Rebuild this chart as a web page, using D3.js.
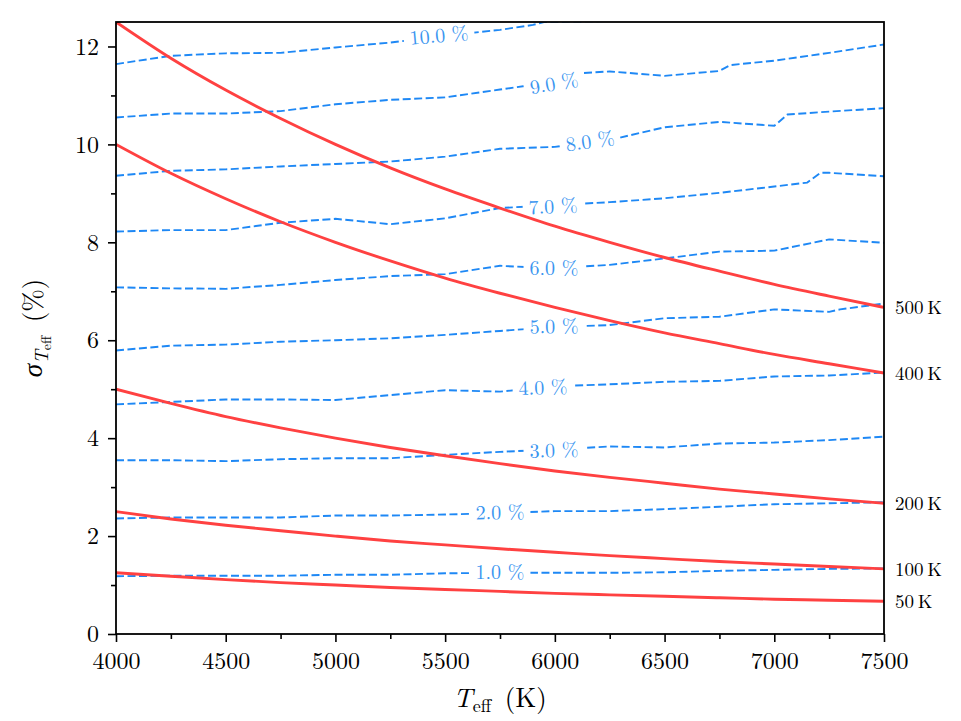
<!DOCTYPE html>
<html>
<head>
<meta charset="utf-8">
<script src="https://cdn.jsdelivr.net/npm/d3@7"></script>
<style>
  body { margin: 0; background: #fff; }
  svg { display: block; }
</style>
</head>
<body>
<svg id="chart" width="961" height="721"></svg>
<script>
// effective temperature grid (K)
var teffGrid = [4000, 4250, 4500, 4750, 5000, 5250, 5500, 5750, 6000, 6250, 6500, 6750, 7000, 7250, 7500];

var deltaLabels = ["500\u2009K", "400\u2009K", "200\u2009K", "100\u2009K", "50\u2009K"];
var sigma500 = [12.50, 11.76, 11.11, 10.53, 10.00, 9.52, 9.09, 8.70, 8.33, 8.00, 7.69, 7.41, 7.14, 6.90, 6.67];
var sigma400 = [10.00, 9.41, 8.89, 8.42, 8.00, 7.62, 7.27, 6.96, 6.67, 6.40, 6.15, 5.93, 5.71, 5.52, 5.33];
var sigma200 = [5.00, 4.71, 4.44, 4.21, 4.00, 3.81, 3.64, 3.48, 3.33, 3.20, 3.08, 2.96, 2.86, 2.76, 2.67];
var sigma100 = [2.50, 2.35, 2.22, 2.11, 2.00, 1.90, 1.82, 1.74, 1.67, 1.60, 1.54, 1.48, 1.43, 1.38, 1.33];
var sigma50  = [1.25, 1.18, 1.11, 1.05, 1.00, 0.95, 0.91, 0.87, 0.83, 0.80, 0.77, 0.74, 0.71, 0.69, 0.67];

// blue contour levels and their traced points [Teff, sigma]
var contourLevels = ["1.0 %", "2.0 %", "3.0 %", "4.0 %", "5.0 %", "6.0 %", "7.0 %", "8.0 %", "9.0 %", "10.0 %"];
var contour1 = [[4000,1.18],[4250,1.19],[4500,1.19],[4750,1.19],[5000,1.21],[5250,1.21],[5500,1.24],[5750,1.25],[6000,1.25],[6250,1.25],[6500,1.26],[6750,1.29],[7000,1.31],[7250,1.33],[7500,1.34]];
var contour2 = [[4000,2.36],[4250,2.38],[4500,2.38],[4750,2.38],[5000,2.42],[5250,2.42],[5500,2.44],[5750,2.47],[6000,2.51],[6250,2.51],[6500,2.55],[6750,2.60],[7000,2.65],[7250,2.67],[7500,2.69]];
var contour3 = [[4000,3.55],[4250,3.55],[4500,3.53],[4750,3.57],[5000,3.59],[5250,3.59],[5500,3.66],[5750,3.72],[6000,3.77],[6250,3.83],[6500,3.81],[6750,3.89],[7000,3.91],[7250,3.96],[7500,4.03]];
var contour4 = [[4000,4.69],[4250,4.74],[4500,4.79],[4750,4.79],[5000,4.78],[5250,4.88],[5500,4.98],[5750,4.95],[6000,5.06],[6250,5.10],[6500,5.15],[6750,5.17],[7000,5.26],[7250,5.28],[7500,5.34]];
var contour5 = [[4000,5.79],[4250,5.89],[4500,5.91],[4750,5.97],[5000,6.00],[5250,6.04],[5500,6.11],[5750,6.19],[6000,6.27],[6250,6.31],[6500,6.45],[6750,6.48],[7000,6.63],[7250,6.58],[7300,6.63],[7500,6.75]];
var contour6 = [[4000,7.08],[4250,7.06],[4500,7.05],[4750,7.13],[5000,7.23],[5250,7.31],[5500,7.35],[5750,7.52],[6000,7.47],[6250,7.54],[6500,7.67],[6750,7.81],[7000,7.83],[7250,8.06],[7500,7.99]];
var contour7 = [[4000,8.22],[4250,8.25],[4500,8.25],[4750,8.40],[5000,8.48],[5250,8.37],[5500,8.49],[5750,8.70],[6000,8.76],[6250,8.82],[6500,8.90],[6750,9.01],[7000,9.14],[7150,9.22],[7210,9.42],[7250,9.42],[7500,9.35]];
var contour8 = [[4000,9.36],[4250,9.46],[4500,9.49],[4750,9.55],[5000,9.60],[5250,9.65],[5500,9.75],[5750,9.91],[6000,9.95],[6250,10.09],[6500,10.35],[6750,10.46],[7000,10.38],[7060,10.61],[7250,10.67],[7500,10.74]];
var contour9 = [[4000,10.55],[4250,10.63],[4500,10.63],[4750,10.68],[5000,10.82],[5250,10.91],[5500,10.96],[5750,11.12],[6000,11.28],[6100,11.45],[6250,11.49],[6500,11.40],[6750,11.50],[6800,11.62],[7000,11.71],[7250,11.87],[7500,12.04]];
var contour10 = [[4000,11.64],[4250,11.81],[4500,11.86],[4750,11.87],[5000,11.98],[5250,12.08],[5500,12.22],[5750,12.34],[5900,12.44],[5950,12.50],[6250,12.52],[6300,12.62]];

// inline label anchors [Teff, sigma, rotation deg]
var labelAnchors = [[5750,1.27,0],[5750,2.49,-1],[5996,3.76,-2],[5946,5.04,-2],[5996,6.29,-1],[5996,7.47,0],[5992,8.74,-3],[6160,10.07,-8],[5996,11.25,-10],[5472,12.23,-5]];

var xTicks = [4000, 4500, 5000, 5500, 6000, 6500, 7000, 7500];
var yTicks = [0, 2, 4, 6, 8, 10, 12];

var serif = "'Latin Modern Roman', 'Liberation Serif', serif";

var margin = {top: 22, right: 77, bottom: 87, left: 116},
    width = 961 - margin.left - margin.right,
    height = 721 - margin.top - margin.bottom;

var svg = d3.select("#chart");
var g = svg.append("g").attr("transform", "translate(" + margin.left + "," + margin.top + ")");

var x = d3.scaleLinear().domain([4000, 7500]).range([0, width]);
var y = d3.scaleLinear().domain([0, 12.5]).range([height, 0]);

g.append("clipPath").attr("id", "plotclip")
  .append("rect").attr("width", width).attr("height", height);

var plot = g.append("g").attr("clip-path", "url(#plotclip)");

var line = d3.line()
  .x(function(d) { return x(d[0]); })
  .y(function(d) { return y(d[1]); });

// blue dashed contours
var contours = [contour1, contour2, contour3, contour4, contour5, contour6, contour7, contour8, contour9, contour10];
plot.selectAll("path.contour")
  .data(contours).enter()
  .append("path")
  .attr("class", "contour")
  .attr("d", line)
  .attr("fill", "none")
  .attr("stroke", "#1e88f5")
  .attr("stroke-width", 1.9)
  .attr("stroke-dasharray", "8,3.5");

// inline labels, with a white patch cutting the dashed line
var labels = plot.selectAll("g.clabel")
  .data(contourLevels).enter()
  .append("g")
  .attr("class", "clabel")
  .attr("transform", function(d, i) {
    var a = labelAnchors[i];
    return "translate(" + x(a[0]) + "," + y(a[1]) + ") rotate(" + a[2] + ")";
  });

labels.append("rect")
  .attr("fill", "#fff");

labels.append("text")
  .attr("text-anchor", "middle")
  .attr("dy", "0.35em")
  .attr("font-size", 20)
  .attr("fill", "#3a95f0")
  .style("font-family", serif)
  .text(function(d) { return d; });

labels.each(function() {
  var el = d3.select(this);
  var bb = el.select("text").node().getBBox();
  el.select("rect")
    .attr("x", bb.x - 6).attr("y", bb.y + 3)
    .attr("width", bb.width + 12).attr("height", bb.height - 6);
});

// red curves
var redSeries = [sigma500, sigma400, sigma200, sigma100, sigma50];
var redLine = d3.line()
  .curve(d3.curveMonotoneX)
  .x(function(d, i) { return x(teffGrid[i]); })
  .y(function(d) { return y(d); });

plot.selectAll("path.fixed")
  .data(redSeries).enter()
  .append("path")
  .attr("class", "fixed")
  .attr("d", redLine)
  .attr("fill", "none")
  .attr("stroke", "#ff4141")
  .attr("stroke-width", 2.9);

// right-hand labels for the red curves
g.selectAll("text.dlabel")
  .data(redSeries).enter()
  .append("text")
  .attr("class", "dlabel")
  .attr("x", width + 11)
  .attr("y", function(d) { return y(d[d.length - 1]); })
  .attr("dy", "0.35em")
  .attr("font-size", 19)
  .attr("fill", "#000")
  .style("font-family", serif)
  .text(function(d, i) { return deltaLabels[i]; });

// axes
var xAxis = g.append("g")
  .attr("transform", "translate(0," + height + ")")
  .call(d3.axisBottom(x).tickValues(xTicks).tickSize(8).tickPadding(10).tickFormat(d3.format("d")));
var xMinor = g.append("g")
  .attr("transform", "translate(0," + height + ")")
  .call(d3.axisBottom(x).tickValues(d3.range(4250, 7500, 500)).tickSize(5).tickFormat(""));

var yAxis = g.append("g")
  .call(d3.axisLeft(y).tickValues(yTicks).tickSize(8).tickPadding(9));
var yMinor = g.append("g")
  .call(d3.axisLeft(y).tickValues([1, 3, 5, 7, 9, 11]).tickSize(5).tickFormat(""));

[xAxis, xMinor, yAxis, yMinor].forEach(function(a) {
  a.attr("font-family", serif);
  a.select(".domain").remove();
  a.selectAll("line").attr("stroke", "#000").attr("stroke-width", 1.6);
  a.selectAll("text").attr("font-size", 24).attr("fill", "#000")
    .style("font-family", serif);
});

// frame
g.append("rect")
  .attr("width", width).attr("height", height)
  .attr("fill", "none").attr("stroke", "#000").attr("stroke-width", 1.8);

// axis titles
var xt = svg.append("text")
  .attr("x", margin.left + width / 2)
  .attr("y", 707)
  .attr("text-anchor", "middle")
  .attr("font-size", 27)
  .style("font-family", serif);
xt.append("tspan").attr("font-style", "italic").text("T");
xt.append("tspan").attr("font-size", 18).attr("dy", 5).text("eff");
xt.append("tspan").attr("dy", -5).text("\u2002(K)");

var yt = svg.append("text")
  .attr("transform", "translate(42," + (margin.top + height / 2) + ") rotate(-90)")
  .attr("text-anchor", "middle")
  .attr("font-size", 27)
  .style("font-family", serif);
yt.append("tspan").attr("font-style", "italic").text("\u03c3");
yt.append("tspan").attr("font-style", "italic").attr("font-size", 19).attr("dy", 6).text("T");
yt.append("tspan").attr("font-size", 14).attr("dy", 3).text("eff");
yt.append("tspan").attr("dy", -9).text("\u2002(%)");
</script>
</body>
</html>
